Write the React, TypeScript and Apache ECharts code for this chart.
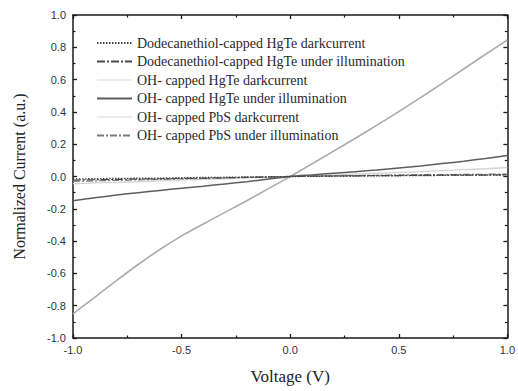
import React, { useEffect, useRef } from "react";
import * as echarts from "echarts";

// Bias voltage (V)
const voltage = [
  -1.0, -0.9, -0.8, -0.7, -0.6, -0.5, -0.4, -0.3, -0.2, -0.1, 0.0,
  0.1, 0.2, 0.3, 0.4, 0.5, 0.6, 0.7, 0.8, 0.9, 1.0,
];

const seriesNames = [
  "Dodecanethiol-capped HgTe darkcurrent",
  "Dodecanethiol-capped HgTe under illumination",
  "OH- capped HgTe darkcurrent",
  "OH- capped HgTe under illumination",
  "OH- capped PbS darkcurrent",
  "OH- capped PbS under illumination",
];

// Normalized current for each sample
const dodecHgTeDark = [
  -0.015, -0.014, -0.012, -0.011, -0.01, -0.008, -0.006, -0.005, -0.003, -0.002, 0,
  0.001, 0.002, 0.003, 0.004, 0.005, 0.006, 0.007, 0.008, 0.009, 0.01,
];
const dodecHgTeLight = [
  -0.022, -0.02, -0.018, -0.016, -0.014, -0.012, -0.01, -0.008, -0.005, -0.003, 0,
  0.002, 0.003, 0.004, 0.005, 0.006, 0.007, 0.008, 0.008, 0.009, 0.01,
];
const ohHgTeDark = [
  -0.045, -0.04, -0.036, -0.032, -0.027, -0.023, -0.018, -0.014, -0.009, -0.005, 0,
  0.005, 0.01, 0.015, 0.02, 0.025, 0.03, 0.036, 0.042, 0.048, 0.055,
];
const ohHgTeLight = [
  -0.15, -0.132, -0.115, -0.1, -0.086, -0.073, -0.06, -0.046, -0.032, -0.016, 0,
  0.01, 0.02, 0.03, 0.04, 0.052, 0.065, 0.08, 0.095, 0.112, 0.13,
];
const ohPbSDark = [
  -0.85, -0.748, -0.645, -0.545, -0.452, -0.368, -0.294, -0.222, -0.15, -0.075, 0,
  0.078, 0.157, 0.237, 0.318, 0.402, 0.488, 0.577, 0.667, 0.757, 0.845,
];
const ohPbSLight = [
  -0.03, -0.027, -0.024, -0.021, -0.018, -0.015, -0.012, -0.009, -0.006, -0.003, 0,
  0.002, 0.004, 0.006, 0.008, 0.01, 0.011, 0.012, 0.013, 0.014, 0.015,
];

const yTicks = { min: -1, max: 1, interval: 0.2 };
const xTicks = { min: -1, max: 1, interval: 0.5 };

const pair = (ys: number[]) => voltage.map((v, i) => [v, ys[i]]);

const serif = "Liberation Serif";
const sans = "Liberation Sans";

export default function App() {
  const ref = useRef<HTMLDivElement>(null);

  useEffect(() => {
    if (!ref.current) return;
    const chart = echarts.init(ref.current, undefined, { renderer: "svg" });

    const axisLine = { show: true, onZero: false, lineStyle: { color: "#1a1a1a", width: 1.5 } };
    const tick = { show: true, inside: true, length: 4, lineStyle: { color: "#1a1a1a", width: 1.3 } };
    const minor = { show: true, splitNumber: 2, length: 2.5, lineStyle: { color: "#1a1a1a", width: 1.2 } };
    const tickLabel = {
      fontFamily: sans,
      fontSize: 11,
      color: "#333",
      formatter: (v: number) => v.toFixed(1),
    };

    const lineSeries = (
      name: string,
      ys: number[],
      color: string,
      type: any,
      width: number,
      z: number
    ) => ({
      name,
      type: "line",
      data: pair(ys),
      showSymbol: false,
      symbol: "none",
      symbolSize: 0,
      smooth: 0.3,
      z,
      lineStyle: { color, type, width },
      itemStyle: { color },
    });

    chart.setOption({
      animation: false,
      backgroundColor: "#fff",
      grid: { left: 73, right: 9, top: 15, bottom: 53 },
      legend: {
        orient: "vertical",
        left: 91,
        top: 31,
        itemWidth: 35,
        itemHeight: 12,
        itemGap: 4.5,
        itemStyle: { opacity: 0 },
        textStyle: { fontFamily: serif, fontSize: 14, color: "#2a2a2a" },
        data: [
          { name: seriesNames[0] },
          { name: seriesNames[1] },
          { name: seriesNames[2], lineStyle: { color: "#ececec" } },
          { name: seriesNames[3] },
          { name: seriesNames[4], lineStyle: { color: "#ececec" } },
          { name: seriesNames[5] },
        ],
      },
      xAxis: [
        {
          type: "value",
          ...xTicks,
          position: "bottom",
          name: "Voltage (V)",
          nameLocation: "middle",
          nameGap: 30,
          nameTextStyle: { fontFamily: serif, fontSize: 17, color: "#222" },
          axisLine,
          axisTick: tick,
          minorTick: minor,
          splitLine: { show: false },
          axisLabel: { ...tickLabel, margin: 6 },
        },
        {
          type: "value",
          ...xTicks,
          position: "top",
          axisLine,
          axisTick: tick,
          minorTick: minor,
          splitLine: { show: false },
          axisLabel: { show: false },
        },
      ],
      yAxis: [
        {
          type: "value",
          ...yTicks,
          position: "left",
          name: "Normalized Current (a.u.)",
          nameLocation: "middle",
          nameGap: 46,
          nameTextStyle: { fontFamily: serif, fontSize: 16, color: "#222" },
          axisLine,
          axisTick: tick,
          minorTick: minor,
          splitLine: { show: false },
          axisLabel: { ...tickLabel, margin: 7 },
        },
        {
          type: "value",
          ...yTicks,
          position: "right",
          axisLine,
          axisTick: tick,
          minorTick: minor,
          splitLine: { show: false },
          axisLabel: { show: false },
        },
      ],
      series: [
        lineSeries(seriesNames[2], ohHgTeDark, "#d4d4d4", "solid", 1.3, 2),
        lineSeries(seriesNames[4], ohPbSDark, "#ababab", "solid", 1.6, 3),
        lineSeries(seriesNames[3], ohHgTeLight, "#5e5e5e", "solid", 1.5, 4),
        lineSeries(seriesNames[5], ohPbSLight, "#7a7a7a", [7, 2, 2, 2], 1.2, 5),
        lineSeries(seriesNames[1], dodecHgTeLight, "#4a4a4a", [8, 2, 2, 2], 1.2, 6),
        lineSeries(seriesNames[0], dodecHgTeDark, "#444", [1.5, 1.5], 1.4, 7),
      ],
    });

    return () => chart.dispose();
  }, []);

  return (
    <div
      ref={ref}
      style={{ position: "fixed", left: 0, top: 0, width: 518, height: 391 }}
    />
  );
}
